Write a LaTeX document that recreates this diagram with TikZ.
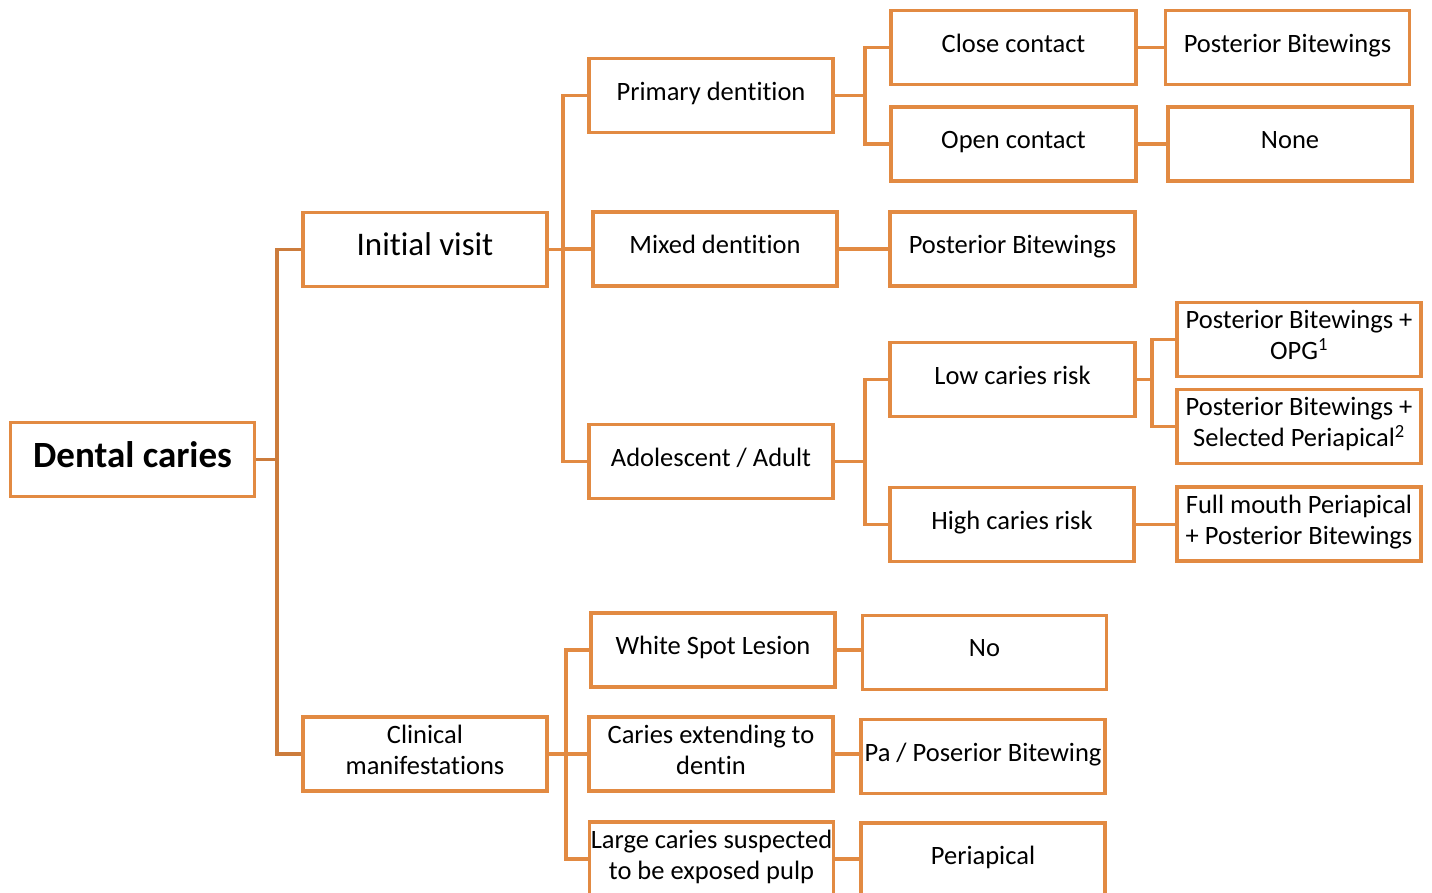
\documentclass[tikz,border=0pt]{standalone}
\usepackage{fontspec}
\setmainfont{Carlito}[Ligatures={NoCommon}]
\definecolor{obox}{RGB}{226,138,66}
\definecolor{odark}{RGB}{204,124,60}
\begin{document}
\begin{tikzpicture}[x=1pt,y=-1pt,
  box/.style={draw=obox,line width=3.5pt,fill=white,inner sep=0pt,align=center,
    minimum width=244,minimum height=74,text depth=9pt,font=\fontsize{26.5}{31}\selectfont},
  conn/.style={draw=obox,line width=3.5pt},
  conndark/.style={draw=odark,line width=3.5pt}]
\clip (0,0) rectangle (1432,892);
\fill[white] (0,0) rectangle (1432,892);
% buses
\coordinate (b1) at (277,0);
\coordinate (b2) at (563,0);
\coordinate (b3) at (865,0);
\coordinate (b5) at (1152,0);
\coordinate (b6) at (566,0);
% nodes
\node[box,text depth=10.5pt,font=\fontsize{37}{40}\selectfont\bfseries] (dc) at (132.5,459.5) {Dental caries};
\node[box,text depth=10.5pt,font=\fontsize{33}{36}\selectfont] (iv) at (425,249.5) {Initial visit};
\node[box] (cm) at (425,754) {Clinical\\manifestations};
\node[box] (pd) at (711,95.5) {Primary dentition};
\node[box] (md) at (715,249) {Mixed dentition};
\node[box] (aa) at (711,461.5) {Adolescent / Adult};
\node[box,minimum width=245] (cc) at (1013.5,47.5) {Close contact};
\node[box,minimum width=245] (oc) at (1013.5,144) {Open contact};
\node[box] (pb1) at (1287.5,47.5) {Posterior Bitewings};
\node[box] (none) at (1290,144) {None};
\node[box,minimum width=245] (pb2) at (1012.5,249) {Posterior Bitewings};
\node[box,minimum width=245] (lcr) at (1012.5,379.5) {Low caries risk};
\node[box] (hcr) at (1012,524.5) {High caries risk};
\node[box] (opg) at (1299,339.5) {Posterior Bitewings +\\OPG\textsuperscript{1}};
\node[box] (sel) at (1299,426.5) {Posterior Bitewings +\\Selected Periapical\textsuperscript{2}};
\node[box] (fm) at (1299,524) {Full mouth Periapical\\+ Posterior Bitewings};
\node[box] (wsl) at (713,650) {White Spot Lesion};
\node[box] (no) at (984.5,652.5) {No};
\node[box] (ce) at (711,754) {Caries extending to\\dentin};
\node[box] (pa) at (983,756.5) {Pa / Poserior Bitewing};
\node[box] (lc) at (711.5,859) {Large caries suspected\\to be exposed pulp};
\node[box] (peri) at (983,860) {Periapical};
% connectors
\draw[conndark] (dc.east) -- (dc.east -| b1);
\draw[conndark] (iv.west) -| (b1 |- cm.west) -- (cm.west);
\draw[conn] (iv.east) -- (iv.east -| b2);
\draw[conn] (pd.west) -| (b2 |- aa.west) -- (aa.west);
\draw[conn] (b2 |- md.west) -- (md.west);
\draw[conn] (pd.east) -- (pd.east -| b3);
\draw[conn] (cc.west) -| (b3 |- oc.west) -- (oc.west);
\draw[conn] (cc.east) -- (pb1.west);
\draw[conn] (oc.east) -- (none.west);
\draw[conn] (md.east) -- (pb2.west);
\draw[conn] (aa.east) -- (aa.east -| b3);
\draw[conn] (lcr.west) -| (b3 |- hcr.west) -- (hcr.west);
\draw[conn] (lcr.east) -- (lcr.east -| b5);
\draw[conn] (opg.west) -| (b5 |- sel.west) -- (sel.west);
\draw[conn] (hcr.east) -- (fm.west |- hcr.east);
\draw[conn] (cm.east) -- (ce.west);
\draw[conn] (wsl.west) -| (b6 |- lc.west) -- (lc.west);
\draw[conn] (wsl.east) -- (no.west |- wsl.east);
\draw[conn] (ce.east) -- (pa.west |- ce.east);
\draw[conn] (lc.east) -- (peri.west |- lc.east);
\end{tikzpicture}
\end{document}
